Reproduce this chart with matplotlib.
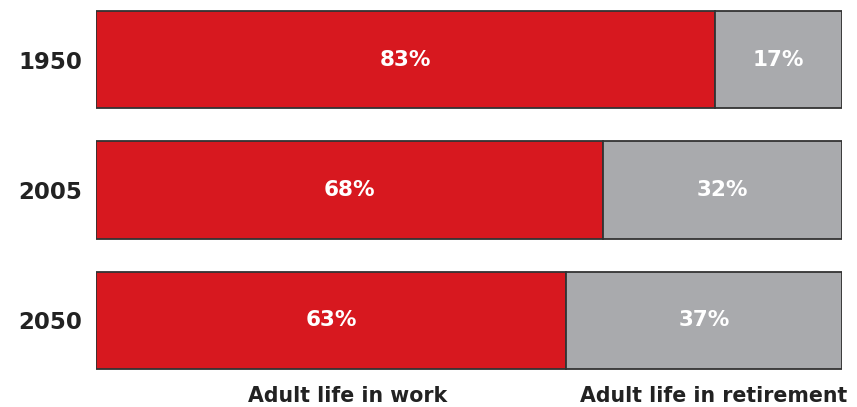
import matplotlib
matplotlib.use("Agg")
import matplotlib.pyplot as plt

years = ["1950", "2005", "2050"]
work = [83, 68, 63]
retire = [17, 32, 37]
series_labels = ["Adult life in work", "Adult life in retirement"]

red = "#d7181f"
gray = "#a9aaad"
edge = "#333333"

plt.rcParams['font.family'] = ['DejaVu Sans']

fig = plt.figure(figsize=(8.57, 4.07), dpi=100)
ax = fig.add_axes([96/857, 1-370/407, (842-96)/857, 360/407])

ypos = list(range(len(years)))
h = 0.75
ax.barh(ypos, work, height=h, color=red, edgecolor=edge, linewidth=1.3)
ax.barh(ypos, retire, left=work, height=h, color=gray, edgecolor=edge, linewidth=1.3)

for y, w, r in zip(ypos, work, retire):
    ax.text(w/2, y, f"{w}%", ha="center", va="center", color="white",
            fontsize=15.5, fontweight="bold")
    ax.text(w + r/2, y, f"{r}%", ha="center", va="center", color="white",
            fontsize=15.5, fontweight="bold")

ax.set_xlim(0, 100)
ax.set_ylim(len(years) - 1 + h/2 + 0.005, -h/2 - 0.005)
ax.set_yticks(ypos)
ax.set_yticklabels(years, fontsize=16.5, fontweight="bold", color="#222222")
ax.tick_params(axis="y", length=0, pad=10)
ax.set_xticks([])
for s in ax.spines.values():
    s.set_visible(False)

fig.text(348/857, 1-396/407, series_labels[0], ha="center", va="center",
         fontsize=14.8, fontweight="bold", color="#222222")
fig.text(714/857, 1-396/407, series_labels[1], ha="center", va="center",
         fontsize=14.8, fontweight="bold", color="#222222")

fig.savefig("out.png", dpi=100)
